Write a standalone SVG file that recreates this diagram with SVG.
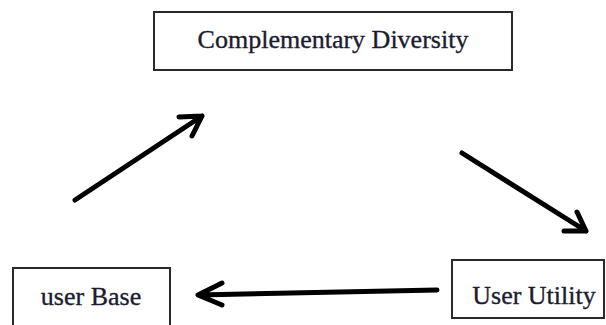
<svg xmlns="http://www.w3.org/2000/svg" width="606" height="325" viewBox="0 0 606 325">
<style>
.box{fill:#fff;stroke:#2a2a2a;stroke-width:2}
.lbl{font-family:"Liberation Serif","Times New Roman",serif;font-size:26px;fill:#1c1c30;stroke:#1c1c30;stroke-width:0.35;text-anchor:middle}
.arr{fill:none;stroke:#000;stroke-width:5;stroke-linecap:round;stroke-linejoin:round}
</style>
<rect width="606" height="325" fill="#fff"/>
<g id="node-complementary-diversity">
<rect class="box" x="154" y="12" width="358" height="58"/>
<text class="lbl" x="333" y="48">Complementary Diversity</text>
</g>
<g id="node-user-utility">
<rect class="box" x="452" y="260" width="152" height="58"/>
<text class="lbl" x="534" y="304">User Utility</text>
</g>
<g id="node-user-base">
<rect class="box" x="13" y="268" width="157" height="70"/>
<text class="lbl" x="91" y="305">user Base</text>
</g>
<g id="connectors">
<path class="arr" d="M75,200 L202,116 M179,117 L202,116 L192,136"/>
<path class="arr" d="M462,153 L586,231 M564,231 L586,231 L577,212"/>
<path class="arr" d="M437,290 L198,295 M222,283 L198,295 L222,305"/>
</g>
</svg>
